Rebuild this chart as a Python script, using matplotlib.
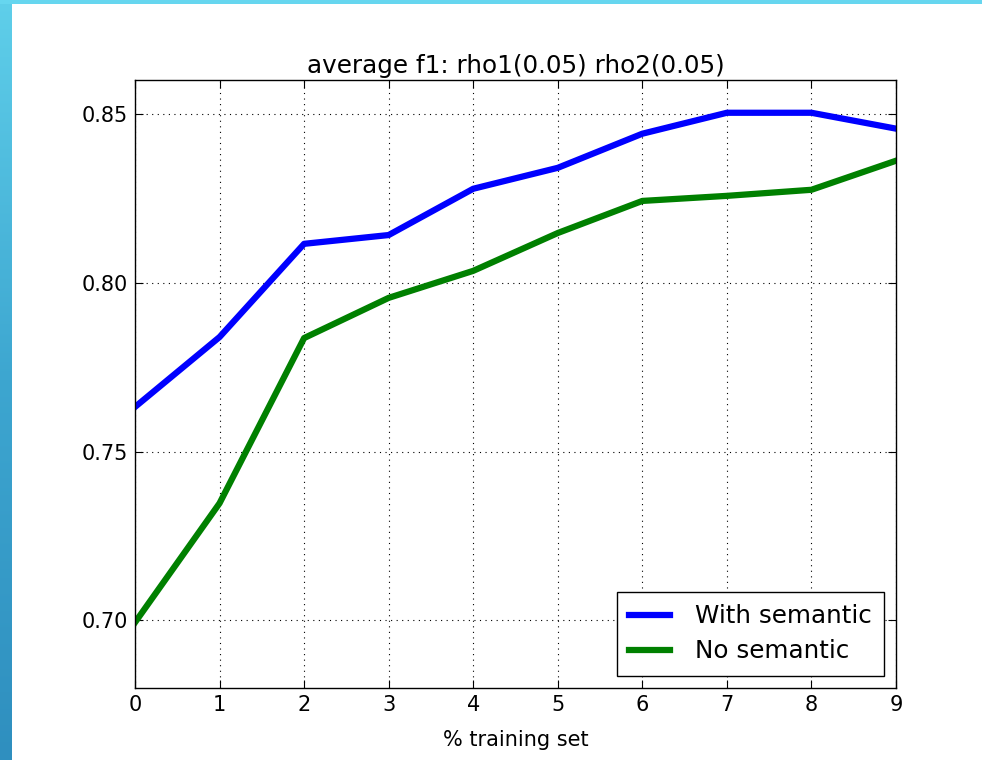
import matplotlib
matplotlib.use("Agg")
import matplotlib.pyplot as plt
import numpy as np
from matplotlib.patches import Rectangle
from matplotlib.colors import LinearSegmentedColormap

x_vals = [0, 1, 2, 3, 4, 5, 6, 7, 8, 9]
with_semantic = [0.7632, 0.7839, 0.8115, 0.8141, 0.8278, 0.8340, 0.8441, 0.8503, 0.8503, 0.8456]
no_semantic = [0.6994, 0.7347, 0.7836, 0.7955, 0.8035, 0.8147, 0.8242, 0.8257, 0.8275, 0.8361]
y_ticks = [0.70, 0.75, 0.80, 0.85]
title = "average f1: rho1(0.05) rho2(0.05)"
xlabel = "% training set"

fig = plt.figure(figsize=(9.82, 7.6), dpi=100)
fig.patch.set_facecolor("white")

# slide decoration: gradient strip on left, light strip on top
grad = np.linspace(0, 1, 256).reshape(-1, 1)
bg_ax = fig.add_axes([0, 0, 12/982, 1])
bg_ax.set_axis_off()
cmap = LinearSegmentedColormap.from_list("strip", ["#5fcfea", "#3da6d0", "#2f8fbf"])
bg_ax.imshow(grad, aspect="auto", cmap=cmap, extent=[0, 1, 0, 1], origin="upper")
fig.patches.append(Rectangle((0, 1 - 4/760), 1, 4/760, transform=fig.transFigure,
                             facecolor="#66d6ef", edgecolor="none", zorder=0))

ax = fig.add_axes([135/982, 1 - 688/760, (896 - 135)/982, (688 - 80)/760])
ax.plot(x_vals, with_semantic, color="#0000ff", lw=4.5, label="With semantic")
ax.plot(x_vals, no_semantic, color="#008000", lw=4.5, label="No semantic")
ax.set_xlim(0, 9)
ax.set_ylim(0.68, 0.86)
ax.set_xticks(x_vals)
ax.set_yticks(y_ticks)
ax.set_yticklabels([f"{v:.2f}" for v in y_ticks])
ax.grid(True, color="black", linestyle=(0, (1, 4)), linewidth=0.8)
ax.tick_params(direction="in", top=True, right=True, length=6, width=0.8, labelsize=15, pad=5)
for s in ax.spines.values():
    s.set_linewidth(1.0)
ax.set_title(title, fontsize=17.7, pad=5)
ax.set_xlabel(xlabel, fontsize=15, labelpad=11)
leg = ax.legend(loc="lower right", fontsize=17.7, fancybox=False, framealpha=1,
                edgecolor="black", handlelength=1.67, borderpad=0.5, labelspacing=0.45,
                handletextpad=1.0, borderaxespad=0.5)
leg.get_frame().set_linewidth(1.0)

fig.savefig("out.png", dpi=100)
